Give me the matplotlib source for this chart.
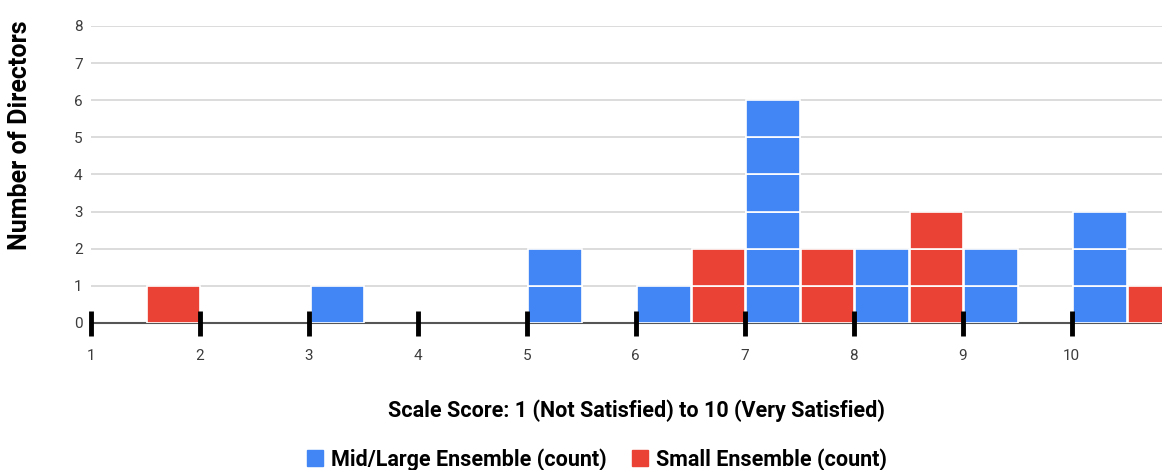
import numpy as np
import matplotlib.pyplot as plt
from matplotlib.lines import Line2D

plt.rcParams['font.family'] = ['Roboto', 'DejaVu Sans']

# histogram bins (left edge, width 0.5) and counts per group
mid_bins = [3, 5, 6, 7, 8, 9, 10]
mid_counts = [1, 2, 1, 6, 2, 2, 3]
small_bins = [1.5, 6.5, 7.5, 8.5, 10.5]
small_counts = [1, 2, 2, 3, 1]

score_ticks = list(range(1, 11))
count_ticks = list(range(0, 9))

blue = '#4285F4'
red = '#EA4335'

fig = plt.figure(figsize=(11.62, 4.70), dpi=100)
ax = fig.add_axes([0.0783, 0.3128, 0.9217, 0.632])

# horizontal gridlines under everything
for y in count_ticks[1:]:
    ax.axhline(y, color='#d6d6d6', linewidth=1.2, zorder=0)


def draw_blocks(bins, counts, color):
    # each director is one block, stacked with a thin white gap
    for left, n in zip(bins, counts):
        for k in range(n):
            ax.bar(left + 0.26, 1, bottom=k, width=0.49, color=color,
                   edgecolor='white', linewidth=1.2, zorder=3)


draw_blocks(mid_bins, mid_counts, blue)
draw_blocks(small_bins, small_counts, red)

ax.set_xlim(1, 10.83)
ax.set_ylim(0, 8)
ax.set_yticks(count_ticks)
ax.set_xticks(score_ticks)
ax.xaxis.set_zorder(6)

for side in ['top', 'right', 'left']:
    ax.spines[side].set_visible(False)
ax.spines['bottom'].set_color('#555555')
ax.spines['bottom'].set_linewidth(1.5)
ax.spines['bottom'].set_zorder(2)

ax.tick_params(axis='y', length=0, pad=6, labelsize=11, labelcolor='#3c3c3c')
ax.tick_params(axis='x', direction='inout', length=18, width=3.5, color='black',
               pad=10, labelsize=11, labelcolor='#3c3c3c')

fig.text(0.017, 0.713, 'Number of Directors', rotation=90, ha='center', va='center',
         fontsize=18, fontweight='bold')
fig.text(0.548, 0.127, 'Scale Score: 1 (Not Satisfied) to 10 (Very Satisfied)',
         ha='center', va='center', fontsize=15.5, fontweight='bold')

handles = [Line2D([], [], marker='s', linestyle='none', markersize=11, color=blue),
           Line2D([], [], marker='s', linestyle='none', markersize=11, color=red)]
fig.legend(handles, ['Mid/Large Ensemble (count)', 'Small Ensemble (count)'],
           loc='center', bbox_to_anchor=(0.512, 0.022), ncol=2, frameon=False,
           prop={'weight': 'bold', 'size': 15.5}, handletextpad=0.2,
           columnspacing=1.0, handlelength=1.1)

fig.savefig('out.png', dpi=100)
